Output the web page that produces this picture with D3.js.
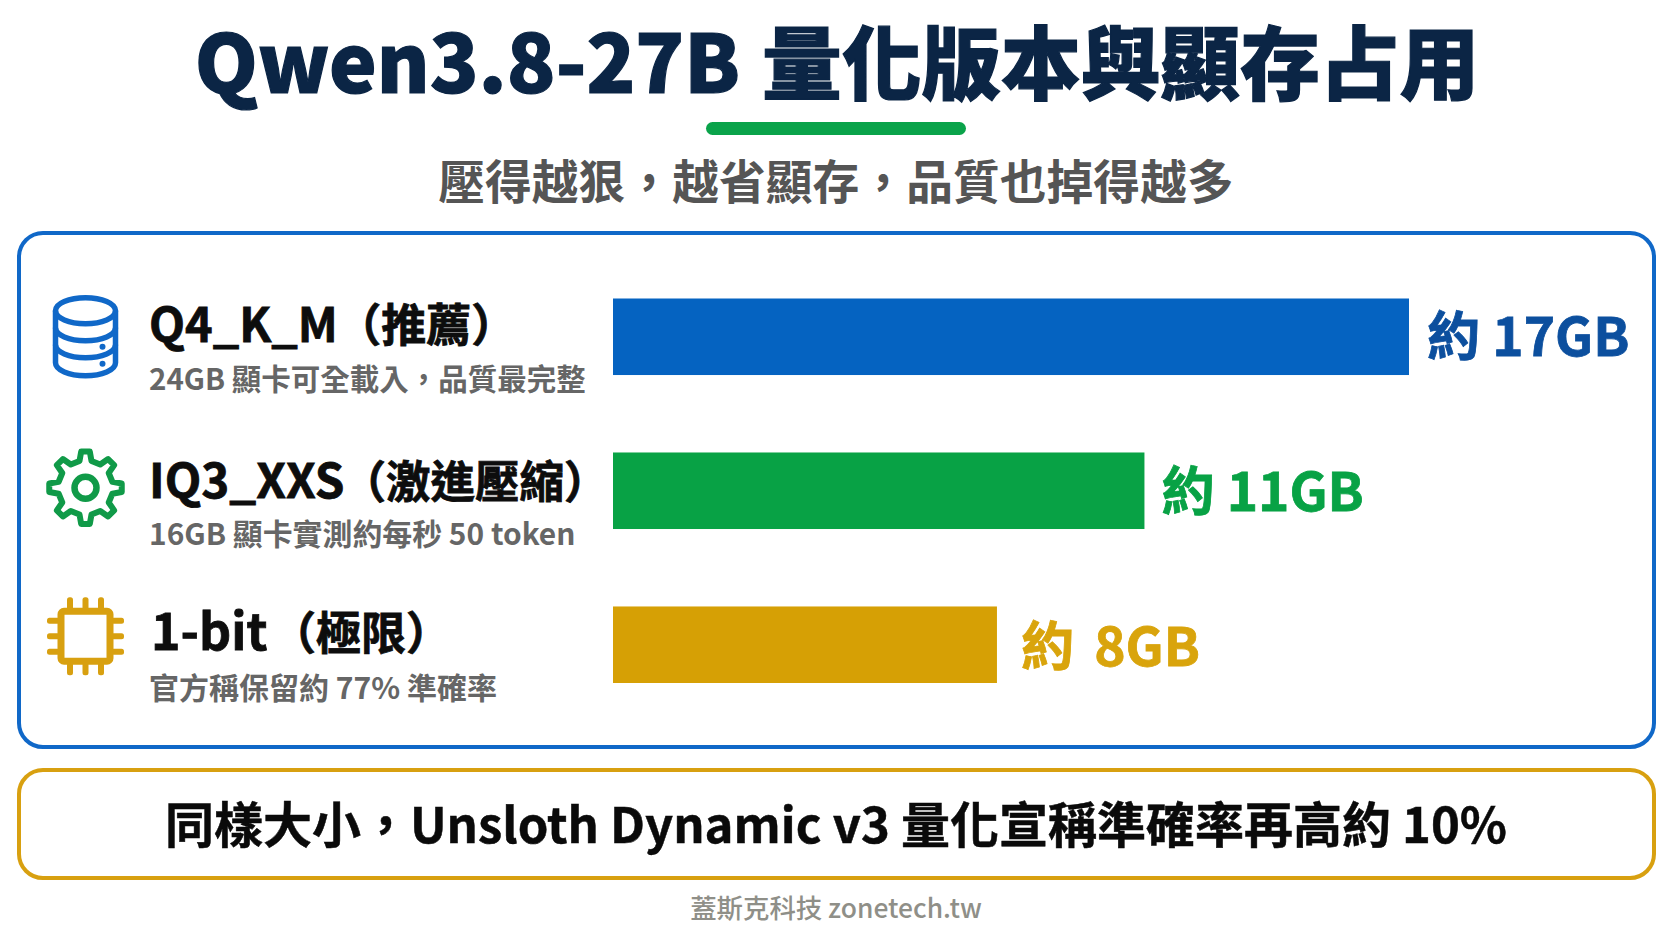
<!DOCTYPE html>
<html lang="zh-Hant">
<head>
<meta charset="utf-8">
<script src="https://cdn.jsdelivr.net/npm/d3@7/dist/d3.min.js"></script>
<style>
html,body{margin:0;padding:0;background:#fff;}
svg{display:block;}
text{font-family:"Noto Sans CJK TC","Noto Sans CJK SC","Noto Sans",sans-serif;}
</style>
</head>
<body>
<svg id="chart" width="1672" height="941"></svg>
<script>
const titleLatin = "Qwen3.8-27B";
const titleCjk = "量化版本與顯存占用";
const subtitleText = "壓得越狠，越省顯存，品質也掉得越多";
const categories = ["Q4_K_M（推薦）", "IQ3_XXS（激進壓縮）", "1-bit（極限）"];
const subLabels = ["24GB 顯卡可全載入，品質最完整", "16GB 顯卡實測約每秒 50 token", "官方稱保留約 77% 準確率"];
const barValues = [17, 11.35, 8.2];
const valueLabels = ["約 17GB", "約 11GB", "約 8GB"];
const barColors = ["#0563c1", "#08a245", "#d6a005"];
const valueColors = ["#0c4f9e", "#08a245", "#d9a40c"];
const iconKinds = ["db", "gear", "chip"];
const noteText = "同樣大小，Unsloth Dynamic v3 量化宣稱準確率再高約 10%";
const footerText = "蓋斯克科技 zonetech.tw";

const svg = d3.select("#chart");
const CX = 836;

// per-row fine layout (not data)
const nameSizes = [46.8, 47.5, 50];
const nameNudges = [0, 0, 2];
const parenSizes = [45, 44.5, 45];
const parenGaps = [-1.5, -3, 3.5];
const subSizes = [29.5, 29.9, 30];
const subNudges = [-2, -1, -1];
const valueNudges = [-1, -2, 5];
const valueWordGaps = [0, 0, 8];
const iconNudges = [0, -3, -8.5];
const iconColors = {db:"#1068c8", gear:"#109a48", chip:"#d8a010"};

svg.append("rect").attr("width",1672).attr("height",941).attr("fill","#fff");

const title = svg.append("text").attr("x",CX+1).attr("y",93).attr("text-anchor","middle")
  .attr("font-weight",900).attr("fill","#0b2545")
  .attr("stroke","#0b2545").attr("stroke-width",1.2);
title.append("tspan").attr("font-size",80.3).text(titleLatin);
title.append("tspan").attr("font-size",79.7).attr("dx",22).text(titleCjk);

svg.append("rect").attr("x",706).attr("y",122).attr("width",260).attr("height",13).attr("rx",6.5)
  .attr("fill","#0aa34a");
svg.append("text").attr("x",CX).attr("y",199).attr("text-anchor","middle")
  .attr("font-size",46.8).attr("font-weight",700).attr("fill","#555").text(subtitleText);

svg.append("rect").attr("x",19).attr("y",233).attr("width",1635).attr("height",514).attr("rx",24)
  .attr("fill","#fff").attr("stroke","#1068c8").attr("stroke-width",4);
svg.append("rect").attr("x",19).attr("y",770).attr("width",1635).attr("height",108).attr("rx",24)
  .attr("fill","#fff").attr("stroke","#d8a010").attr("stroke-width",4);

const x = d3.scaleLinear().domain([0,17]).range([613,1409]);
const y = d3.scaleBand().domain(categories).range([298.5,683]).paddingInner(0.503).paddingOuter(0);

const rows = svg.append("g").selectAll("g").data(categories).join("g");

rows.append("rect")
  .attr("x",x(0))
  .attr("y",d=>y(d))
  .attr("width",(d,i)=>x(barValues[i])-x(0))
  .attr("height",y.bandwidth())
  .attr("fill",(d,i)=>barColors[i]);

rows.append("text")
  .attr("x",(d,i)=>x(barValues[i])+19+valueNudges[i])
  .attr("y",(d,i)=>y(d)+y.bandwidth()/2+19+i)
  .attr("font-size",53.2).attr("font-weight",700)
  .attr("word-spacing",(d,i)=>valueWordGaps[i])
  .attr("fill",(d,i)=>valueColors[i])
  .attr("stroke",(d,i)=>valueColors[i]).attr("stroke-width",0.8)
  .text((d,i)=>valueLabels[i]);

const nameText = rows.append("text")
  .attr("x",(d,i)=>149+nameNudges[i])
  .attr("y",(d,i)=>y(d)+y.bandwidth()/2+5+(i===1?2:0))
  .attr("font-weight",700).attr("fill","#0d0d0d")
  .attr("stroke","#0d0d0d").attr("stroke-width",0.8);
nameText.append("tspan").attr("font-size",(d,i)=>nameSizes[i]).text(d=>d.split("（")[0]);
nameText.append("tspan").attr("font-size",(d,i)=>parenSizes[i]).attr("dx",(d,i)=>parenGaps[i]).text(d=>"（"+d.split("（")[1]);

rows.append("text")
  .attr("x",149)
  .attr("y",(d,i)=>y(d)+y.bandwidth()/2+55+subNudges[i])
  .attr("font-size",(d,i)=>subSizes[i]).attr("font-weight",700).attr("fill","#666")
  .text((d,i)=>subLabels[i]);

function drawDb(g,c){
  const s={fill:"none",stroke:c,"stroke-width":5.5};
  const apply=e=>{Object.entries(s).forEach(([k,v])=>e.attr(k,v));return e;};
  apply(g.append("path")).attr("d","M-30,-26 A30,13 0 0 1 30,-26 L30,26 A30,13 0 0 1 -30,26 Z");
  apply(g.append("path")).attr("d","M-30,-26 A30,13 0 0 0 30,-26");
  apply(g.append("path")).attr("d","M-30,-9 A30,13 0 0 0 30,-9");
  apply(g.append("path")).attr("d","M-30,8 A30,13 0 0 0 30,8");
  [10,27].forEach(cy=>g.append("circle").attr("cx",17).attr("cy",cy).attr("r",3).attr("fill",c));
}
function drawGear(g,c){
  const n=8, ro=36.5, ri=27.5, pts=[];
  for(let k=0;k<n;k++){
    const a=k*2*Math.PI/n-Math.PI/2, w=2*Math.PI/n;
    [[-0.28,ri],[-0.15,ro],[0.15,ro],[0.28,ri]].forEach(([f,r])=>{
      pts.push([r*Math.cos(a+f*w),r*Math.sin(a+f*w)]);
    });
  }
  g.append("path").attr("d",d3.line()(pts)+"Z").attr("fill","none").attr("stroke",c)
    .attr("stroke-width",6).attr("stroke-linejoin","round");
  g.append("circle").attr("r",11).attr("fill","none").attr("stroke",c).attr("stroke-width",6.5);
}
function drawChip(g,c){
  [-15.5,0,15.5].forEach(o=>{
    [[o,-39,6,13],[o,26,6,13]].forEach(([px,py,w,h])=>
      g.append("rect").attr("x",px-3).attr("y",py).attr("width",w).attr("height",h).attr("rx",2.5).attr("fill",c));
    [[-38.5,o,13,6],[25.5,o,13,6]].forEach(([px,py,w,h])=>
      g.append("rect").attr("x",px).attr("y",py-3).attr("width",w).attr("height",h).attr("rx",2.5).attr("fill",c));
  });
  g.append("rect").attr("x",-24.5).attr("y",-25).attr("width",49).attr("height",50).attr("rx",3)
    .attr("fill","#fff").attr("stroke",c).attr("stroke-width",7);
}
const drawers={db:drawDb,gear:drawGear,chip:drawChip};
rows.append("g")
  .attr("transform",(d,i)=>`translate(85.5,${y(d)+y.bandwidth()/2+iconNudges[i]})`)
  .each(function(d,i){drawers[iconKinds[i]](d3.select(this),iconColors[iconKinds[i]]);});

svg.append("text").attr("x",CX).attr("y",843).attr("text-anchor","middle")
  .attr("font-size",49).attr("font-weight",700).attr("fill","#0a0a0a")
  .attr("stroke","#0a0a0a").attr("stroke-width",0.5).text(noteText);
svg.append("text").attr("x",CX).attr("y",918).attr("text-anchor","middle")
  .attr("font-size",26.4).attr("font-weight",500).attr("fill","#8f8f88").text(footerText);
</script>
</body>
</html>
